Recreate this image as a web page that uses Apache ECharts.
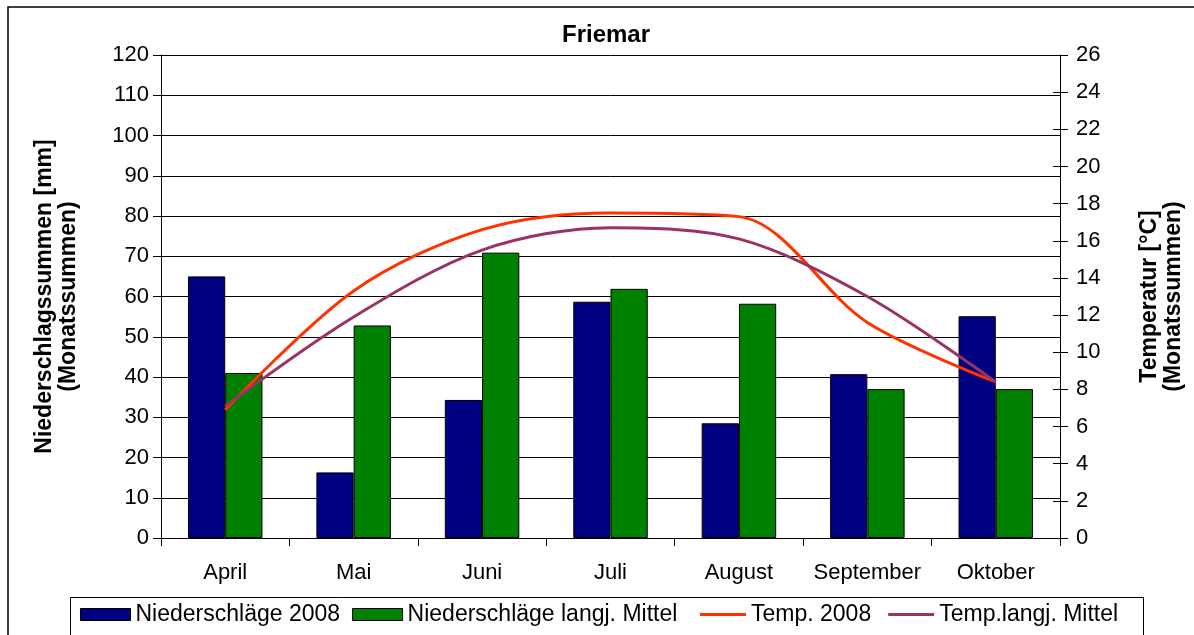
<!DOCTYPE html>
<html>
<head>
<meta charset="utf-8">
<script src="https://cdn.jsdelivr.net/npm/echarts@6/dist/echarts.min.js"></script>
<style>
html,body{margin:0;padding:0;background:#fff;}
#c{width:1194px;height:635px;}
</style>
</head>
<body>
<div id="c"></div>
<script>
const categories = ["April", "Mai", "Juni", "Juli", "August", "September", "Oktober"];
const rain2008 = [65, 16.3, 34.3, 58.7, 28.5, 40.7, 55.1];
const rainMean = [41, 52.8, 70.9, 61.9, 58.2, 37, 37];
const temp2008 = [6.9, 13.3, 16.6, 17.5, 17.3, 11.6, 8.4];
const tempMean = [7.1, 11.9, 15.5, 16.7, 16.1, 13.0, 8.4];
const seriesNames = ["Niederschläge 2008", "Niederschläge langj. Mittel", "Temp. 2008", "Temp.langj. Mittel"];

const FONT = "Liberation Sans, Arial, sans-serif";
const chart = echarts.init(document.getElementById('c'), null, {renderer: 'canvas'});
chart.setOption({
  animation: false,
  textStyle: {fontFamily: FONT, color: '#000'},
  graphic: [{
    type: 'rect', silent: true, z: -10,
    shape: {x: 8, y: 7, width: 1400, height: 800},
    style: {fill: 'none', stroke: '#000', lineWidth: 1.5}
  }, {
    type: 'rect', silent: true, z: -10,
    shape: {x: 70.5, y: 597.5, width: 1073, height: 50},
    style: {fill: '#fff', stroke: '#000', lineWidth: 1}
  }],
  title: {
    text: 'Friemar', left: 557, top: 18,
    textStyle: {fontFamily: FONT, fontWeight: 'bold', fontSize: 24, color: '#000'}
  },
  legend: [{
    left: 80, top: 603, padding: 0,
    data: [{name: seriesNames[0], icon: 'rect'}, {name: seriesNames[1], icon: 'rect'}],
    itemWidth: 50, itemHeight: 12, itemGap: 12,
    itemStyle: {borderColor: '#000', borderWidth: 1},
    textStyle: {fontFamily: FONT, fontSize: 23, color: '#000'}
  }, {
    left: 700, top: 603, padding: 0,
    data: [{name: seriesNames[2], icon: 'rect'}, {name: seriesNames[3], icon: 'rect'}],
    itemWidth: 46, itemHeight: 3, itemGap: 17,
    textStyle: {fontFamily: FONT, fontSize: 23, color: '#000'}
  }],
  grid: {left: 161, right: 134, top: 55, bottom: 97},
  xAxis: {
    type: 'category', data: categories,
    axisLine: {lineStyle: {color: '#000', width: 1}},
    axisTick: {show: true, interval: 0, length: 8, lineStyle: {color: '#000'}},
    axisLabel: {interval: 0, fontFamily: FONT, fontSize: 22, color: '#000', margin: 24},
    splitLine: {show: false}
  },
  yAxis: [{
    type: 'value', min: 0, max: 120, interval: 10, position: 'left',
    name: 'Niederschlagssummen [mm]\n(Monatssummen)',
    nameLocation: 'middle', nameRotate: 90, nameGap: 80,
    nameTextStyle: {fontFamily: FONT, fontWeight: 'bold', fontSize: 23, lineHeight: 24, color: '#000'},
    axisLine: {show: true, lineStyle: {color: '#000'}},
    axisTick: {show: true, length: 8, lineStyle: {color: '#000'}},
    axisLabel: {fontFamily: FONT, fontSize: 22, color: '#000', margin: 12},
    splitLine: {show: true, lineStyle: {color: '#000', width: 1}}
  }, {
    type: 'value', min: 0, max: 26, interval: 2, position: 'right',
    name: 'Temperatur [°C]\n(Monatssummen)',
    nameLocation: 'middle', nameRotate: 90, nameGap: 78,
    nameTextStyle: {fontFamily: FONT, fontWeight: 'bold', fontSize: 23, lineHeight: 24, color: '#000'},
    axisLine: {show: true, lineStyle: {color: '#000'}},
    axisTick: {show: true, length: 8, lineStyle: {color: '#000'}},
    axisLabel: {fontFamily: FONT, fontSize: 22, color: '#000', margin: 16},
    splitLine: {show: false}
  }, {
    type: 'value', min: 0, max: 120, interval: 10, position: 'left',
    axisLine: {show: false},
    axisTick: {show: true, inside: true, length: 7, lineStyle: {color: '#000'}},
    axisLabel: {show: false}, splitLine: {show: false}
  }, {
    type: 'value', min: 0, max: 26, interval: 2, position: 'right',
    axisLine: {show: false},
    axisTick: {show: true, inside: true, length: 7, lineStyle: {color: '#000'}},
    axisLabel: {show: false}, splitLine: {show: false}
  }],
  series: [{
    name: seriesNames[0], type: 'bar', yAxisIndex: 0, data: rain2008,
    barGap: '0%', barCategoryGap: '42%',
    itemStyle: {color: '#000080', borderColor: '#000', borderWidth: 1}
  }, {
    name: seriesNames[1], type: 'bar', yAxisIndex: 0, data: rainMean,
    barGap: '0%', barCategoryGap: '42%',
    itemStyle: {color: '#008000', borderColor: '#000', borderWidth: 1}
  }, {
    name: seriesNames[2], type: 'line', yAxisIndex: 1, data: temp2008,
    smooth: 0.32, symbol: 'none', z: 5,
    lineStyle: {color: '#FF3300', width: 3}, itemStyle: {color: '#FF3300'}
  }, {
    name: seriesNames[3], type: 'line', yAxisIndex: 1, data: tempMean,
    smooth: 0.32, symbol: 'none', z: 5,
    lineStyle: {color: '#993366', width: 3}, itemStyle: {color: '#993366'}
  }]
});
</script>
</body>
</html>
